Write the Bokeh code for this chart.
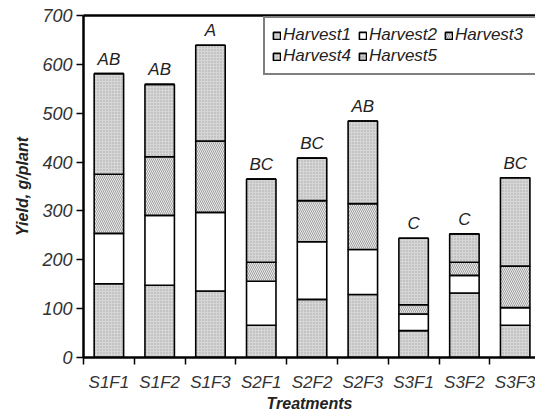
from bokeh.plotting import figure
from bokeh.models import ColumnDataSource, FixedTicker, LinearAxis, Legend, Range1d
from bokeh.core.properties import value
from bokeh.transform import stack
from bokeh.embed import file_html
from bokeh.resources import INLINE

treatments = ["S1F1", "S1F2", "S1F3", "S2F1", "S2F2", "S2F3", "S3F1", "S3F2", "S3F3"]
harvest1 = [151, 148, 136, 66, 119, 129, 55, 132, 66]
harvest2 = [103, 143, 161, 90, 118, 92, 34, 36, 36]
harvest3 = [121, 120, 146, 39, 84, 94, 19, 27, 85]
harvest4 = [206, 148, 196, 170, 87, 169, 136, 58, 181]
harvest5 = [0, 0, 0, 0, 0, 0, 0, 0, 0]
letters = ["AB", "AB", "A", "BC", "BC", "AB", "C", "C", "BC"]
y_ticks = [0, 100, 200, 300, 400, 500, 600, 700]
series_names = ["Harvest1", "Harvest2", "Harvest3", "Harvest4", "Harvest5"]

FONT = "Liberation Sans"

xs = [i + 0.5 for i in range(len(treatments))]
totals = [a + b + c + d + e for a, b, c, d, e in zip(harvest1, harvest2, harvest3, harvest4, harvest5)]

source = ColumnDataSource(dict(x=xs, treatment=treatments,
                               Harvest1=harvest1, Harvest2=harvest2, Harvest3=harvest3,
                               Harvest4=harvest4, Harvest5=harvest5,
                               total=totals, letter=letters))

p = figure(width=535, height=414, x_range=Range1d(0, 8.9), y_range=Range1d(0, 700),
           output_backend="svg", toolbar_location=None,
           min_border_left=83, min_border_right=0, min_border_top=15, min_border_bottom=57)
p.outline_line_color = None
p.grid.visible = False
p.background_fill_color = "white"
p.border_fill_color = "white"

styles = [
    dict(fill_color="#d6d6d6", hatch_pattern="dot", hatch_color="#a8a8a8", hatch_scale=3, hatch_weight=1),
    dict(fill_color="white"),
    dict(fill_color="#ececec", hatch_pattern="left_diagonal_line", hatch_color="#8a8a8a", hatch_scale=4, hatch_weight=0.8),
    dict(fill_color="#d6d6d6", hatch_pattern="dot", hatch_color="#a8a8a8", hatch_scale=3, hatch_weight=1),
    dict(fill_color="#c8c8c8", hatch_pattern="dot", hatch_color="#909090", hatch_scale=3, hatch_weight=1),
]

renderers = []
bottom_expr = []
for name, st in zip(series_names, styles):
    r = p.vbar(x="x", width=0.58, bottom=stack(*bottom_expr), top=stack(*(bottom_expr + [name])),
               source=source, line_color="black", line_width=1.6, **st)
    renderers.append((name, r))
    bottom_expr.append(name)

p.text(x="x", y="total", text="letter", source=source, text_align="center", text_baseline="bottom",
       y_offset=-5, text_font=value(FONT), text_font_style="italic", text_font_size="17px", text_color="#222222")

# left axis
yax = p.yaxis[0]
yax.ticker = FixedTicker(ticks=y_ticks)
yax.axis_line_width = 2.5
yax.axis_line_color = "black"
yax.major_tick_out = 7
yax.major_tick_in = 0
yax.major_tick_line_width = 1.5
yax.minor_tick_line_color = None
yax.major_label_text_font = FONT
yax.major_label_text_font_style = "italic"
yax.major_label_text_font_size = "18px"
yax.major_label_text_color = "#333333"
yax.major_label_standoff = 4
yax.axis_label = "Yield, g/plant"
yax.axis_label_text_font = FONT
yax.axis_label_text_font_style = "bold italic"
yax.axis_label_text_font_size = "16px"
yax.axis_label_text_color = "#222222"
yax.axis_label_standoff = 8

# bottom axis
xax = p.xaxis[0]
xax.ticker = FixedTicker(ticks=xs, minor_ticks=list(range(len(treatments) + 1)))
xax.major_label_overrides = {x: t for x, t in zip(xs, treatments)}
xax.axis_line_width = 2.5
xax.axis_line_color = "black"
xax.major_tick_line_color = None
xax.major_tick_out = 0
xax.major_tick_in = 0
xax.minor_tick_out = 7
xax.minor_tick_in = 0
xax.minor_tick_line_width = 1.5
xax.minor_tick_line_color = "black"
xax.major_label_text_font = FONT
xax.major_label_text_font_style = "italic"
xax.major_label_text_font_size = "17px"
xax.major_label_text_color = "#333333"
xax.major_label_standoff = 8
xax.axis_label = "Treatments"
xax.axis_label_text_font = FONT
xax.axis_label_text_font_style = "bold italic"
xax.axis_label_text_font_size = "16px"
xax.axis_label_text_color = "#222222"
xax.axis_label_standoff = 0

# top border line
top = LinearAxis(ticker=FixedTicker(ticks=[]), axis_line_width=2.5, axis_line_color="black",
                 major_tick_line_color=None, minor_tick_line_color=None,
                 major_label_text_font_size="0px", major_label_standoff=0)
p.add_layout(top, "above")

legend = Legend(items=[(n, [r]) for n, r in renderers], location=(180, 282),
                orientation="horizontal", ncols=3)
legend.label_text_font = FONT
legend.label_text_font_style = "italic"
legend.label_text_font_size = "17px"
legend.label_text_color = "#222222"
legend.label_standoff = 2
legend.glyph_width = 9
legend.glyph_height = 9
legend.label_height = 20
legend.label_width = 74
legend.spacing = 1
legend.padding = 7
legend.margin = 0
legend.border_line_color = "black"
legend.border_line_width = 2
legend.background_fill_alpha = 1
p.add_layout(legend, "center")

open("out.html", "w").write(file_html(p, INLINE))
